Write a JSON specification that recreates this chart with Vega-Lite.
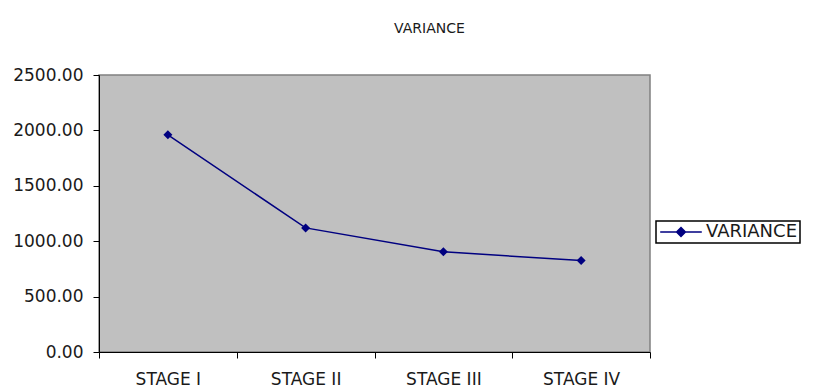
{
  "$schema": "https://vega.github.io/schema/vega-lite/v6.json",
  "width": 551,
  "height": 277,
  "autosize": "none",
  "padding": {"left": 99, "top": 75, "right": 170, "bottom": 37},
  "background": "white",
  "title": {
    "text": "VARIANCE",
    "font": "DejaVu Sans",
    "fontSize": 14,
    "fontWeight": "normal",
    "color": "#1a1a1a",
    "anchor": "middle",
    "dx": 55,
    "offset": 30
  },
  "data": {
    "values": [
      {"stage": "STAGE I", "variance": 1960, "series": "VARIANCE"},
      {"stage": "STAGE II", "variance": 1120, "series": "VARIANCE"},
      {"stage": "STAGE III", "variance": 905, "series": "VARIANCE"},
      {"stage": "STAGE IV", "variance": 825, "series": "VARIANCE"}
    ]
  },
  "encoding": {
    "x": {
      "field": "stage",
      "type": "nominal",
      "sort": null,
      "scale": {"type": "band", "paddingInner": 0, "paddingOuter": 0},
      "axis": {
        "title": null,
        "labelAngle": 0,
        "tickBand": "extent",
        "tickSize": 6,
        "tickColor": "#000000",
        "domainColor": "#000000",
        "labelFont": "DejaVu Sans",
        "labelFontSize": 17,
        "labelColor": "#1a1a1a",
        "labelPadding": 13
      }
    },
    "y": {
      "field": "variance",
      "type": "quantitative",
      "scale": {"domain": [0, 2500], "nice": false},
      "axis": {
        "title": null,
        "values": [0, 500, 1000, 1500, 2000, 2500],
        "format": ".2f",
        "grid": false,
        "tickSize": 6,
        "tickColor": "#000000",
        "domainColor": "#000000",
        "labelFont": "DejaVu Sans",
        "labelFontSize": 17,
        "labelColor": "#1a1a1a",
        "labelPadding": 10
      }
    },
    "color": {
      "field": "series",
      "type": "nominal",
      "scale": {"range": ["#000080"]},
      "legend": {
        "title": null,
        "orient": "none",
        "legendX": 557,
        "legendY": 146,
        "strokeColor": "#000000",
        "fillColor": "#ffffff",
        "padding": 2,
        "symbolType": "M-2.6,0H2.6M0,-0.55L0.55,0L0,0.55L-0.55,0Z",
        "symbolSize": 256,
        "symbolOffset": 14,
        "symbolStrokeWidth": 1.5,
        "symbolFillColor": "#000080",
        "symbolStrokeColor": "#000080",
        "labelFont": "DejaVu Sans",
        "labelFontSize": 18,
        "labelColor": "#1a1a1a",
        "labelOffset": 16
      }
    }
  },
  "layer": [
    {"mark": {"type": "line", "strokeWidth": 1.5}},
    {"mark": {"type": "point", "shape": "diamond", "filled": true, "size": 81, "opacity": 1}}
  ],
  "config": {
    "view": {"fill": "#c0c0c0", "stroke": "#808080", "strokeWidth": 1.5},
    "legend": {"strokeWidth": 1.5}
  }
}
